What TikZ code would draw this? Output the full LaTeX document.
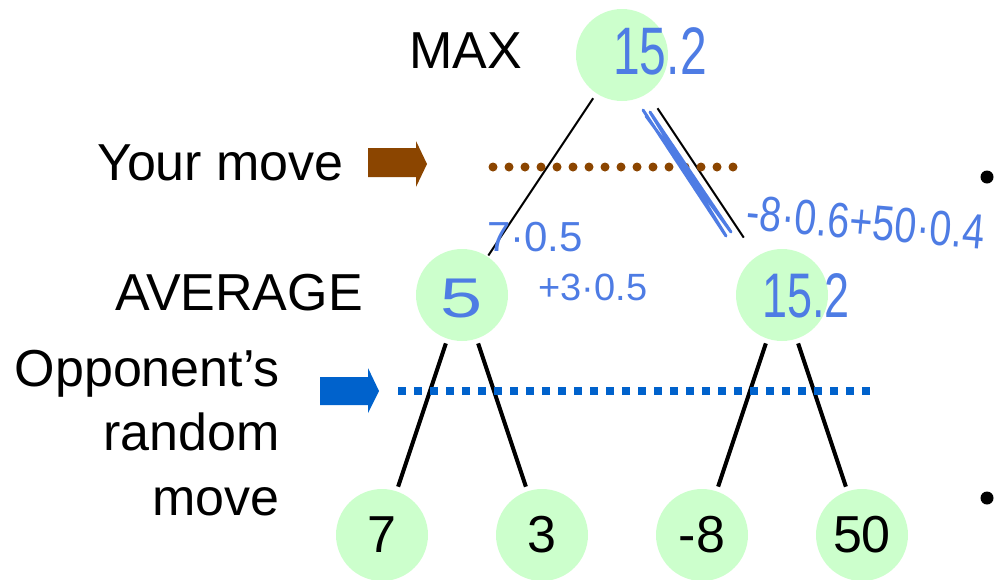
\documentclass[tikz,border=0pt]{standalone}
\usepackage{fontspec}
\setmainfont{Liberation Sans}
\usepackage{graphicx}
\usetikzlibrary{shapes,arrows,calc}
\definecolor{nodegreen}{RGB}{204,255,204}
\definecolor{movebrown}{RGB}{139,69,0}
\definecolor{moveblue}{RGB}{0,98,204}
\definecolor{inkblue}{RGB}{78,124,228}
\tikzstyle{state} = [circle, fill=nodegreen, minimum size=92pt, inner sep=0pt, outer sep=0pt, font=\fontsize{52}{60}\selectfont]
\tikzstyle{tag} = [inner sep=0pt, font=\fontsize{52}{64.5}\selectfont]
\tikzstyle{branch} = [draw, line width=2pt]
\tikzstyle{leafbranch} = [draw, line width=4pt, shorten <=5pt, shorten >=5pt]
\tikzstyle{scribble} = [text=inkblue, inner sep=0pt]
\tikzstyle{youdots} = [draw=movebrown, line width=9pt, line cap=round, dash pattern=on 0pt off 16pt]
\tikzstyle{oppdots} = [draw=moveblue, line width=8pt, dash pattern=on 8pt off 8pt]

\begin{document}
\begin{tikzpicture}[x=1pt, y=-1pt]
        \useasboundingbox (0,0) rectangle (994,579);
        % tree
        \node[state] (root) at (622,55) {};
        \node[state] (avgl) at (462,295) {};
        \node[state] (avgr) at (782,295) {};
        \node[state] (leafa) at (382,535) {7};
        \node[state] (leafb) at (542,535) {3};
        \node[state] (leafc) at (702,535) {-8};
        \node[state] (leafd) at (862,535) {50};
        \path[branch, shorten <=6pt, shorten >=1.5pt] (root) -- (avgl);
        \path[branch, shorten <=18pt, shorten >=23pt] (root) -- (avgr);
        \path[leafbranch] (avgl) -- (leafa);
        \path[leafbranch] (avgl) -- (leafb);
        \path[leafbranch] (avgr) -- (leafc);
        \path[leafbranch] (avgr) -- (leafd);
        % row labels
        \node[tag, anchor=base west] (max) at (409,68) {MAX};
        \node[tag, anchor=base east] (yours) at (344,180) {Your move};
        \node[tag, anchor=base east] (average) at (363,310) {AVERAGE};
        \node[tag, anchor=base east, align=right] (opp) at (280,515) {Opponent’s\\random\\move};
        % move markers
        \fill[movebrown] (368,148) -- (416,148) -- (416,141) -- (427,164) -- (416,187) -- (416,177) -- (368,177) -- cycle;
        \path[youdots] (493,167) -- (734,167);
        \fill[moveblue] (320,377) -- (368,377) -- (368,368) -- (379,391) -- (368,413) -- (368,405) -- (320,405) -- cycle;
        \path[oppdots] (398,391) -- (870,391);
        % bullets of the list on the right
        \fill (987,177) circle (6.5pt);
        \fill (987,498) circle (6.5pt);
        % handwriting
        \draw[inkblue, line width=3pt, line cap=round, line join=round] (643,110) -- (726,236) -- (650,112) -- (731,232) -- (646,116);
        \node[scribble, font=\fontsize{48}{48}\selectfont] (rootval) at (660,51) {\scalebox{1}[1.4]{15.2}};
        \node[scribble, font=\fontsize{56}{56}\selectfont] (avglval) at (462,299) {\scalebox{1.35}[1]{5}};
        \node[scribble, font=\fontsize{45}{45}\selectfont] (avgrval) at (806,296) {\scalebox{1}[1.4]{15.2}};
        \node[scribble, font=\fontsize{42}{42}\selectfont] (suml) at (535,237) {7·0.5};
        \node[scribble, font=\fontsize{38}{38}\selectfont] (sumlb) at (593,287) {+3·0.5};
        \node[scribble, font=\fontsize{39.5}{40}\selectfont, anchor=west, rotate=-5] (sumr) at (747,212) {\scalebox{1}[1.25]{-8·0.6+50·0.4}};
\end{tikzpicture}
\end{document}
